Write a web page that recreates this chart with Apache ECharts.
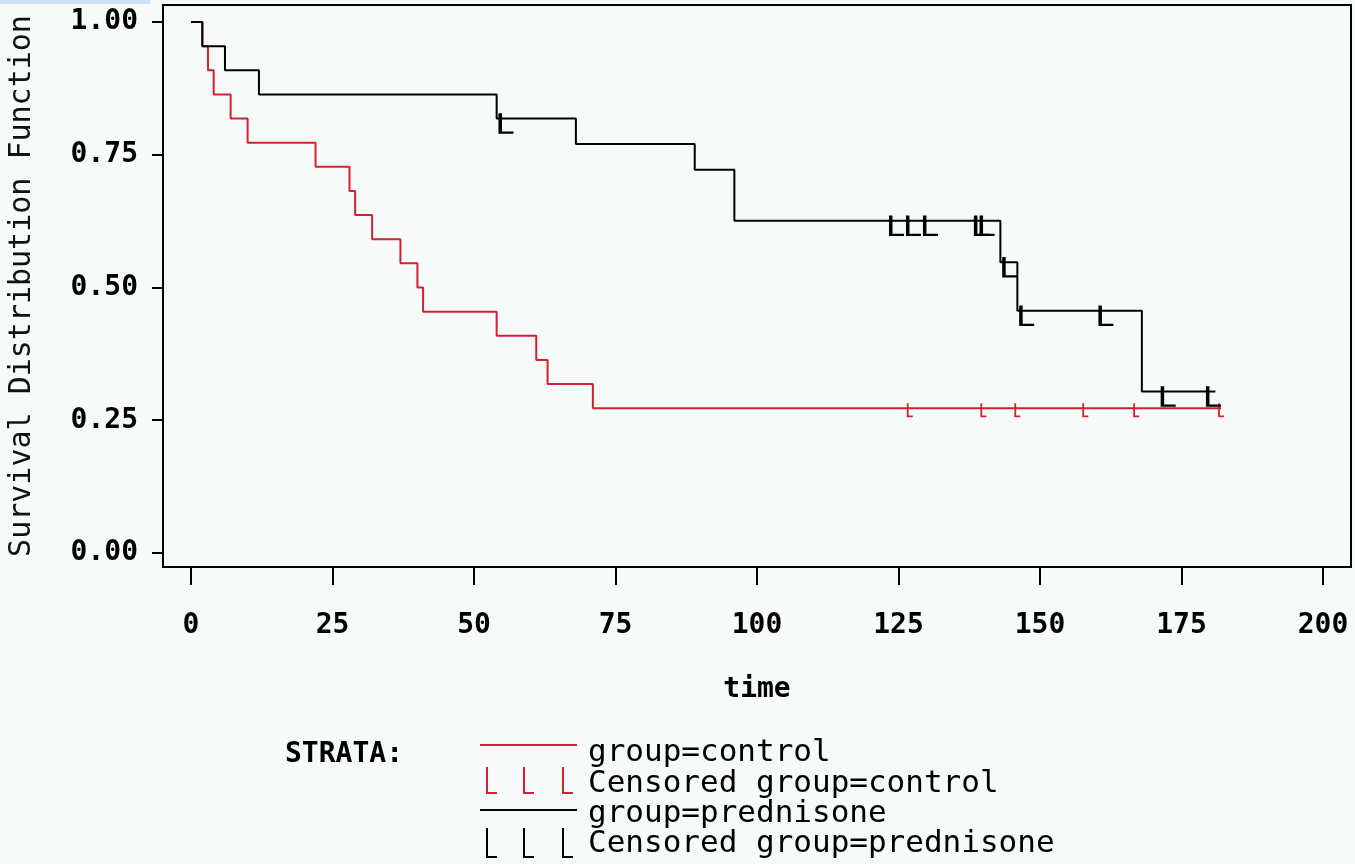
<!DOCTYPE html>
<html><head><meta charset="utf-8">
<script src="https://cdn.jsdelivr.net/npm/echarts@6/dist/echarts.min.js"></script>
<style>html,body{margin:0;padding:0;background:#f6faf8}#c{width:1355px;height:864px}</style>
</head><body><div id="c"></div>
<script>
// ---- data ----
const xTicks = [0, 25, 50, 75, 100, 125, 150, 175, 200];
const xTickLabels = ['0', '25', '50', '75', '100', '125', '150', '175', '200'];
const yTicks = [0, 0.25, 0.5, 0.75, 1];
const yTickLabels = ['0.00', '0.25', '0.50', '0.75', '1.00'];

const controlTime = [0, 2, 3, 4, 7, 10, 22, 28, 29, 32, 37, 40, 41, 54, 61, 63, 71, 182];
const controlSurv = [1, 0.9545, 0.9091, 0.8636, 0.8182, 0.7727, 0.7273, 0.6818, 0.6364, 0.5909, 0.5455, 0.5000, 0.4545, 0.4091, 0.3636, 0.3182, 0.2727, 0.2727];
const controlCensTime = [127, 140, 146, 158, 167, 182];
const controlCensSurv = [0.2727, 0.2727, 0.2727, 0.2727, 0.2727, 0.2727];

const predTime = [0, 2, 6, 12, 54, 68, 89, 96, 143, 146, 168, 181];
const predSurv = [1, 0.9545, 0.9091, 0.8636, 0.8182, 0.7701, 0.7219, 0.6257, 0.5475, 0.4562, 0.3041, 0.3041];
const predCensTime = [56, 125, 128, 131, 140, 141, 145, 148, 162, 173, 181];
const predCensSurv = [0.8182, 0.6257, 0.6257, 0.6257, 0.6257, 0.6257, 0.5475, 0.4562, 0.4562, 0.3041, 0.3041];

const legendLabels = ['group=control', 'Censored group=control', 'group=prednisone', 'Censored group=prednisone'];

// ---- chart ----
const RED = '#d42030';
const FONT = '"DejaVu Sans Mono", "Liberation Mono", monospace';
const zip = (a, b) => a.map((v, i) => [v, b[i]]);

const chart = echarts.init(document.getElementById('c'), null, { renderer: 'canvas' });

function lShape(x, y0, y1, foot, color, w) {
  return { type: 'polyline', silent: true, shape: { points: [[x, y0], [x, y1], [x + foot, y1]] },
    style: { stroke: color, lineWidth: w, fill: null } };
}

chart.setOption({
  backgroundColor: '#f6faf8',
  animation: false,
  grid: { left: 163, right: 4, top: 5, bottom: 297, show: true, borderColor: '#000', borderWidth: 2,
    backgroundColor: 'transparent', outerBoundsMode: 'none', containLabel: false },
  xAxis: {
    type: 'value', min: -4.95, max: 204.95,
    axisLine: { show: true, onZero: false, lineStyle: { color: '#000', width: 2 } },
    axisTick: { show: true, length: 18, customValues: xTicks, lineStyle: { color: '#000', width: 2 } },
    axisLabel: { customValues: xTicks, margin: 45, color: '#000', fontFamily: FONT, fontSize: 28, fontWeight: 'bold',
      formatter: v => xTickLabels[xTicks.indexOf(v)] },
    splitLine: { show: false },
    name: 'time', nameLocation: 'middle', nameGap: 109,
    nameTextStyle: { color: '#000', fontFamily: FONT, fontSize: 28, fontWeight: 'bold' }
  },
  yAxis: {
    type: 'value', min: -0.0264, max: 1.032,
    axisLine: { show: true, onZero: false, lineStyle: { color: '#000', width: 2 } },
    axisTick: { show: true, length: 11, customValues: yTicks, lineStyle: { color: '#000', width: 2 } },
    axisLabel: { customValues: yTicks, margin: 25, color: '#000', fontFamily: FONT, fontSize: 28, fontWeight: 'bold',
      formatter: v => yTickLabels[yTicks.indexOf(v)] },
    splitLine: { show: false },
    name: 'Survival Distribution Function', nameLocation: 'middle', nameGap: 126, nameRotate: 90,
    nameTextStyle: { color: '#111', fontFamily: FONT, fontSize: 30 }
  },
  series: [
    { name: 'group=control', type: 'line', step: 'end', data: zip(controlTime, controlSurv), showSymbol: false,
      lineStyle: { color: RED, width: 2 }, z: 2 },
    { name: 'group=prednisone', type: 'line', step: 'end', data: zip(predTime, predSurv), showSymbol: false,
      lineStyle: { color: '#000', width: 2 }, z: 3 },
    { name: 'Censored group=control', type: 'scatter', data: zip(controlCensTime, controlCensSurv),
      symbol: 'path://M0,0 H1.8 V12.2 H6 V14 H0 Z', symbolSize: [6, 14], symbolOffset: [0, 2],
      itemStyle: { color: RED, opacity: 1 }, z: 4 },
    { name: 'Censored group=prednisone', type: 'scatter', data: zip(predCensTime, predCensSurv),
      symbol: 'path://M0,0 H3.5 V18.3 H15 V20.5 H0 Z', symbolSize: [15, 20.5], symbolOffset: [-2, 5],
      itemStyle: { color: '#000', opacity: 1 }, z: 5 }
  ],
  graphic: [
    { type: 'rect', silent: true, shape: { x: 0, y: 0, width: 150, height: 4 }, style: { fill: '#cfe2f3' } },
    { type: 'text', left: 285, top: 741, style: { text: 'STRATA:', font: 'bold 28px ' + FONT, fill: '#000' } },
    { type: 'line', silent: true, shape: { x1: 480, y1: 745, x2: 577, y2: 745 }, style: { stroke: RED, lineWidth: 2 } },
    lShape(487, 767, 793, 10, RED, 2), lShape(524, 767, 793, 10, RED, 2), lShape(563, 767, 793, 10, RED, 2),
    { type: 'line', silent: true, shape: { x1: 480, y1: 810, x2: 577, y2: 810 }, style: { stroke: '#000', lineWidth: 2 } },
    lShape(487, 828, 857, 10, '#000', 2), lShape(524, 828, 857, 10, '#000', 2), lShape(563, 828, 857, 10, '#000', 2),
    { type: 'text', silent: true, x: 588, y: 753, style: { text: legendLabels[0], font: '31px ' + FONT, fill: '#000', verticalAlign: 'middle' } },
    { type: 'text', silent: true, x: 588, y: 784, style: { text: legendLabels[1], font: '31px ' + FONT, fill: '#000', verticalAlign: 'middle' } },
    { type: 'text', silent: true, x: 588, y: 814, style: { text: legendLabels[2], font: '31px ' + FONT, fill: '#000', verticalAlign: 'middle' } },
    { type: 'text', silent: true, x: 588, y: 844, style: { text: legendLabels[3], font: '31px ' + FONT, fill: '#000', verticalAlign: 'middle' } }
  ]
});
</script></body></html>
